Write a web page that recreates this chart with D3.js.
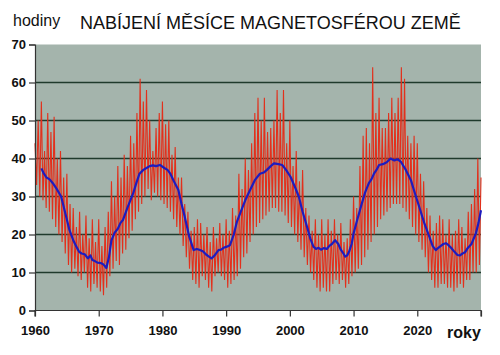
<!DOCTYPE html>
<html><head><meta charset="utf-8">
<script src="https://cdn.jsdelivr.net/npm/d3@7"></script>
<style>html,body{margin:0;padding:0;background:#fff;}svg{display:block;font-family:"Liberation Sans",Arial,sans-serif;}</style>
</head><body>
<script>
// Tick values
const yTicks = [0, 10, 20, 30, 40, 50, 60, 70];
const xTicks = [1960, 1970, 1980, 1990, 2000, 2010, 2020, 2030];
const xTickLabels = ["1960", "1970", "1980", "1990", "2000", "2010", "2020", ""];
const title = "NABÍJENÍ MĚSÍCE MAGNETOSFÉROU ZEMĚ";
const yLabel = "hodiny";
const xLabel = "roky";

// Red series: hand-read values, 4 per year (year + 0, .25, .5, .75), start 1960
const redStart = 1960;
const redValues = [
 44,33,50,30,  55,29,42,27,  52,26,47,24,  51,22,40,20,  42,18,35,15,
 36,12,28,10,  27,11,22,9,   26,8,20,10,   25,6,19,5,    24,7,18,6,
 24,5,17,4,    22,6,26,9,    34,11,30,13,  38,12,35,15,  41,16,38,19,
 46,21,44,24,  52,26,61,28,  55,30,58,32,  50,29,42,31,  48,30,52,29,
 55,28,49,27,  50,26,41,24,  43,22,35,20,  35,17,28,14,  26,11,21,8,
 22,7,24,6,    23,9,20,8,    22,6,18,5,    22,9,19,10,   23,9,20,8,
 24,6,21,7,    27,8,25,9,    36,11,32,14,  40,15,37,18,  44,20,52,22,
 56,23,50,24,  56,25,47,26,  48,27,50,27,  58,26,52,26,  58,25,44,23,
 50,22,38,20,  42,18,34,16,  37,14,27,12,  25,10,21,8,   24,6,20,5,
 24,6,20,5,    24,5,21,7,    24,8,20,7,    23,8,18,6,    19,7,24,9,
 30,10,27,11,  38,12,46,14,  48,16,44,18,  64,20,52,22,  56,24,48,25,
 48,26,52,27,  56,28,52,28,  56,28,64,27,  61,26,46,24,  44,22,46,20,
 44,18,36,16,  34,14,27,10,  25,8,21,6,    23,6,25,7,    24,7,20,6,
 24,6,20,5,    21,6,24,7,    22,6,19,8,    26,8,28,10,   32,10,40,12,
 35
];

// Blue smoothed series: hand-read [year, value]
const blueYears = [1961.0,1961.4,1961.8,1962.3,1962.8,1963.4,1964.1,1964.7,1965.4,1966.0,1966.5,1966.9,1967.3,1967.8,1968.3,1968.7,1969.0,1969.4,1969.8,1970.3,1970.7,1971.2,1971.6,1972.0,1972.5,1973.0,1973.4,1973.8,1974.5,1975.4,1975.9,1976.4,1977.0,1977.5,1978.0,1978.5,1979.0,1979.6,1980.3,1980.8,1981.2,1981.8,1982.5,1983.0,1983.5,1984.2,1984.9,1985.4,1985.9,1986.4,1986.8,1987.3,1987.7,1988.2,1988.8,1989.2,1989.6,1990.1,1990.6,1991.2,1991.7,1992.3,1993.0,1993.7,1994.5,1995.3,1995.9,1996.4,1997.0,1997.5,1998.2,1998.8,1999.4,2000.1,2000.8,2001.4,2002.0,2002.7,2003.2,2003.7,2004.1,2004.5,2004.9,2005.3,2005.8,2006.2,2006.6,2007.1,2007.6,2008.0,2008.4,2008.7,2009.0,2009.3,2009.7,2010.0,2010.6,2011.3,2011.8,2012.4,2012.8,2013.2,2013.6,2014.0,2014.6,2015.2,2015.8,2016.4,2016.9,2017.4,2018.2,2019.0,2019.6,2020.3,2021.1,2021.9,2022.4,2022.9,2023.3,2023.7,2024.1,2024.5,2024.9,2025.3,2025.8,2026.3,2026.7,2027.1,2027.5,2027.9,2028.5,2029.2,2029.6,2030.0];
const blueValues = [37.4,36.0,35.0,34.5,33.5,32.0,30.0,26.0,21.2,18.5,16.8,15.5,15.0,14.8,13.7,14.5,13.3,13.0,12.6,12.5,12.2,11.2,14.0,18.5,20.5,21.5,23.0,23.8,27.0,30.8,33.5,36.0,37.0,37.5,38.0,38.2,38.0,38.3,37.5,37.0,36.1,34.0,31.7,28.0,24.7,19.5,15.9,16.2,15.9,15.5,14.8,14.2,13.7,14.5,15.9,16.0,16.5,16.8,17.2,20.0,23.4,26.0,29.0,31.5,34.3,36.0,36.3,37.0,38.0,38.7,38.5,38.3,37.0,35.2,32.5,30.0,26.0,22.0,19.0,16.8,16.2,16.5,16.0,16.4,16.2,17.0,17.5,18.5,17.5,16.0,15.0,14.2,14.5,15.5,17.5,20.3,24.0,28.2,31.0,33.5,34.5,36.0,37.0,38.3,38.5,39.0,40.0,39.5,39.8,39.2,37.0,34.3,31.0,27.3,23.0,19.4,17.0,15.9,16.5,17.0,17.5,17.7,17.2,16.5,15.5,14.6,14.5,15.0,15.3,16.4,17.5,20.3,23.0,26.4];

const W = 500, H = 355;
const m = {left: 35, right: 19, top: 44.5, bottom: 44.5};
const svg = d3.select("body").append("svg").attr("width", W).attr("height", H);

const x = d3.scaleLinear().domain([1960, 2030]).range([m.left, W - m.right]);
const y = d3.scaleLinear().domain([0, 70]).range([H - m.bottom, m.top]);

// plot background
svg.append("rect").attr("x", x(1960)).attr("y", y(70))
  .attr("width", x(2030) - x(1960)).attr("height", y(0) - y(70))
  .attr("fill", "#a4b4ac");

// gridlines
svg.append("g").selectAll("line").data(yTicks.filter(d => d > 0 && d < 70)).join("line")
  .attr("x1", x(1960)).attr("x2", x(2030))
  .attr("y1", d => y(d)).attr("y2", d => y(d))
  .attr("stroke", "#1f3a2c").attr("stroke-width", 1.6);

// red series
const redData = redValues.map((v, i) => [redStart + i * 0.25, v]);
const line = d3.line().x(d => x(d[0])).y(d => y(d[1]));
svg.append("path").datum(redData).attr("d", line)
  .attr("fill", "none").attr("stroke", "#e2301c").attr("stroke-width", 1.1)
  .attr("stroke-linejoin", "miter");

// blue series
const blueData = blueYears.map((yr, i) => [yr, blueValues[i]]);
svg.append("path").datum(blueData).attr("d", d3.line().x(d => x(d[0])).y(d => y(d[1])))
  .attr("fill", "none").attr("stroke", "#1c1cc0").attr("stroke-width", 2.2)
  .attr("stroke-linejoin", "round");

// axes
const yAxis = d3.axisLeft(y).tickValues(yTicks).tickSize(6).tickPadding(3).tickFormat(d3.format("d"));
const gy = svg.append("g").attr("transform", `translate(${x(1960)},0)`).call(yAxis);
const xAxis = d3.axisBottom(x).tickValues(xTicks).tickSize(6).tickPadding(9)
  .tickFormat((d, i) => xTickLabels[i]);
const gx = svg.append("g").attr("transform", `translate(0,${y(0)})`).call(xAxis);
[gy, gx].forEach(g => {
  g.select(".domain").attr("stroke", "#333").attr("stroke-width", 1.2);
  g.selectAll(".tick line").attr("stroke", "#333").attr("stroke-width", 1.2);
  g.selectAll("text").attr("font-size", 13).attr("font-weight", "bold").attr("fill", "#111")
    .attr("font-family", "'Liberation Sans', Arial, sans-serif");
});
gx.select(".domain").attr("d", `M${x(1960)},6V0H${x(2030)}V6`);

// titles
svg.append("text").attr("x", 80).attr("y", 29).attr("font-size", 18).attr("fill", "#111").text(title);
svg.append("text").attr("x", 13).attr("y", 26).attr("font-size", 16).attr("fill", "#111").text(yLabel);
svg.append("text").attr("x", 447).attr("y", 338).attr("font-size", 16).attr("font-weight", "bold").attr("fill", "#111").text(xLabel);
</script>
</body></html>
